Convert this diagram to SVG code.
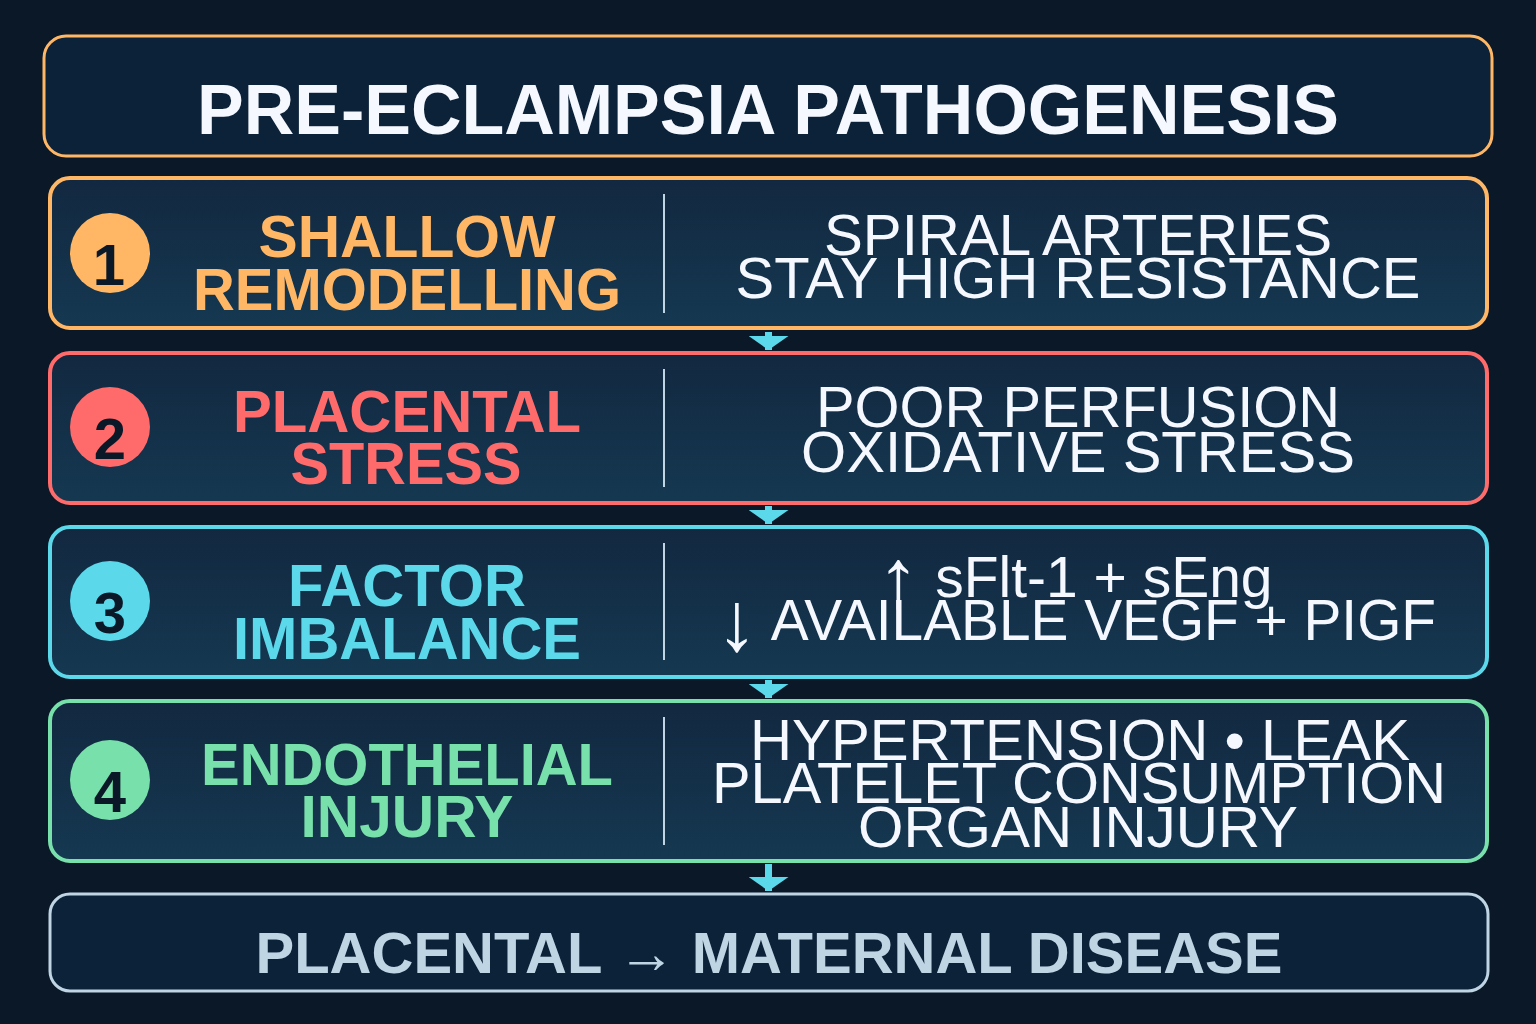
<svg xmlns="http://www.w3.org/2000/svg" width="1536" height="1024" viewBox="0 0 1536 1024">
  <defs>
    <linearGradient id="boxfill" x1="0" y1="0" x2="0" y2="1">
      <stop offset="0" stop-color="#122840"/>
      <stop offset="1" stop-color="#153851"/>
    </linearGradient>
    <marker id="head" viewBox="0 0 40 14" markerWidth="40" markerHeight="14" refX="20" refY="14" markerUnits="userSpaceOnUse" orient="0">
      <path d="M0,0 L40,0 L20,14 z" fill="#5BD8EA"/>
    </marker>
    <style>
      .bg { fill: #0a1828; }
      .step { fill: url(#boxfill); stroke-width: 4; }
      .lbl { font-family: "Liberation Sans", Arial, sans-serif; font-weight: bold; font-size: 60px; text-anchor: middle; }
      .num { font-family: "Liberation Sans", Arial, sans-serif; font-weight: bold; font-size: 58px; text-anchor: middle; fill: #0a1828; }
      .desc { font-family: "Liberation Sans", Arial, sans-serif; font-size: 58px; text-anchor: middle; fill: #F5F8FF; }
      .div { stroke: #BFD5E4; stroke-width: 2; }
      .conn { stroke: #5BD8EA; stroke-width: 7; fill: none; }
    </style>
  </defs>
  <rect class="bg" x="0" y="0" width="1536" height="1024"/>

  <g id="title">
    <rect x="44" y="36" width="1448" height="120" rx="22" fill="#0c2238" stroke="#FFB766" stroke-width="3"/>
    <text x="768" y="134" font-family="Liberation Sans, Arial, sans-serif" font-weight="bold" font-size="70" text-anchor="middle" fill="#F5F8FF" textLength="1142" lengthAdjust="spacingAndGlyphs">PRE-ECLAMPSIA PATHOGENESIS</text>
  </g>

  <g id="step1">
    <rect class="step" x="50" y="178" width="1437" height="150" rx="20" stroke="#FFB766"/>
    <circle cx="110" cy="253" r="40" fill="#FFB766"/>
    <text class="num" x="109" y="285">1</text>
    <text class="lbl" fill="#FFB766" x="407" y="257" textLength="297" lengthAdjust="spacingAndGlyphs">SHALLOW</text>
    <text class="lbl" fill="#FFB766" x="407" y="310" textLength="428" lengthAdjust="spacingAndGlyphs">REMODELLING</text>
    <line class="div" x1="664" y1="194" x2="664" y2="313"/>
    <text class="desc" x="1078" y="255" textLength="508" lengthAdjust="spacingAndGlyphs">SPIRAL ARTERIES</text>
    <text class="desc" x="1078" y="298" textLength="685" lengthAdjust="spacingAndGlyphs">STAY HIGH RESISTANCE</text>
  </g>

  <g id="step2">
    <rect class="step" x="50" y="353" width="1437" height="150" rx="20" stroke="#FF6B6B"/>
    <circle cx="110" cy="427" r="40" fill="#FF6B6B"/>
    <text class="num" x="110" y="459">2</text>
    <text class="lbl" fill="#FF6B6B" x="407" y="432" textLength="348" lengthAdjust="spacingAndGlyphs">PLACENTAL</text>
    <text class="lbl" fill="#FF6B6B" x="406" y="484" textLength="231" lengthAdjust="spacingAndGlyphs">STRESS</text>
    <line class="div" x1="664" y1="369" x2="664" y2="487"/>
    <text class="desc" x="1078" y="427" textLength="524" lengthAdjust="spacingAndGlyphs">POOR PERFUSION</text>
    <text class="desc" x="1078" y="472" textLength="554" lengthAdjust="spacingAndGlyphs">OXIDATIVE STRESS</text>
  </g>

  <g id="step3">
    <rect class="step" x="50" y="527" width="1437" height="150" rx="20" stroke="#5BD8EA"/>
    <circle cx="110" cy="601" r="40" fill="#5BD8EA"/>
    <text class="num" x="110" y="633">3</text>
    <text class="lbl" fill="#5BD8EA" x="407" y="606" textLength="238" lengthAdjust="spacingAndGlyphs">FACTOR</text>
    <text class="lbl" fill="#5BD8EA" x="407" y="659" textLength="348" lengthAdjust="spacingAndGlyphs">IMBALANCE</text>
    <line class="div" x1="664" y1="543" x2="664" y2="660"/>
    <text class="desc" x="1075" y="597"><tspan font-size="84" dy="10">↑</tspan><tspan dy="-10" textLength="353" lengthAdjust="spacingAndGlyphs"> sFlt-1 + sEng</tspan></text>
    <text class="desc" x="1076" y="640"><tspan font-size="84" dy="10">↓</tspan><tspan dy="-10" textLength="678" lengthAdjust="spacingAndGlyphs"> AVAILABLE VEGF + PIGF</tspan></text>
  </g>

  <g id="step4">
    <rect class="step" x="50" y="701" width="1437" height="160" rx="20" stroke="#78E0AA"/>
    <circle cx="110" cy="780" r="40" fill="#78E0AA"/>
    <text class="num" x="110" y="812">4</text>
    <text class="lbl" fill="#78E0AA" x="407" y="785" textLength="412" lengthAdjust="spacingAndGlyphs">ENDOTHELIAL</text>
    <text class="lbl" fill="#78E0AA" x="407" y="837" textLength="213" lengthAdjust="spacingAndGlyphs">INJURY</text>
    <line class="div" x1="664" y1="717" x2="664" y2="845"/>
    <text class="desc" x="1080" y="760" textLength="660" lengthAdjust="spacingAndGlyphs">HYPERTENSION • LEAK</text>
    <text class="desc" x="1079" y="803" textLength="734" lengthAdjust="spacingAndGlyphs">PLATELET CONSUMPTION</text>
    <text class="desc" x="1078" y="847" textLength="440" lengthAdjust="spacingAndGlyphs">ORGAN INJURY</text>
  </g>

  <g id="outcome">
    <rect x="50" y="894" width="1438" height="97" rx="20" fill="#0c2238" stroke="#BFD5E4" stroke-width="3"/>
    <text x="769" y="973" font-family="Liberation Sans, Arial, sans-serif" font-weight="bold" font-size="58" text-anchor="middle" fill="#BFD5E4" textLength="1027" lengthAdjust="spacingAndGlyphs">PLACENTAL → MATERNAL DISEASE</text>
  </g>

  <g id="connectors">
    <line class="conn" x1="768.5" y1="332" x2="768.5" y2="350" marker-end="url(#head)"/>
    <line class="conn" x1="768.5" y1="506" x2="768.5" y2="524" marker-end="url(#head)"/>
    <line class="conn" x1="768.5" y1="680" x2="768.5" y2="698" marker-end="url(#head)"/>
    <line class="conn" x1="768.5" y1="864" x2="768.5" y2="891" marker-end="url(#head)"/>
  </g>
</svg>
